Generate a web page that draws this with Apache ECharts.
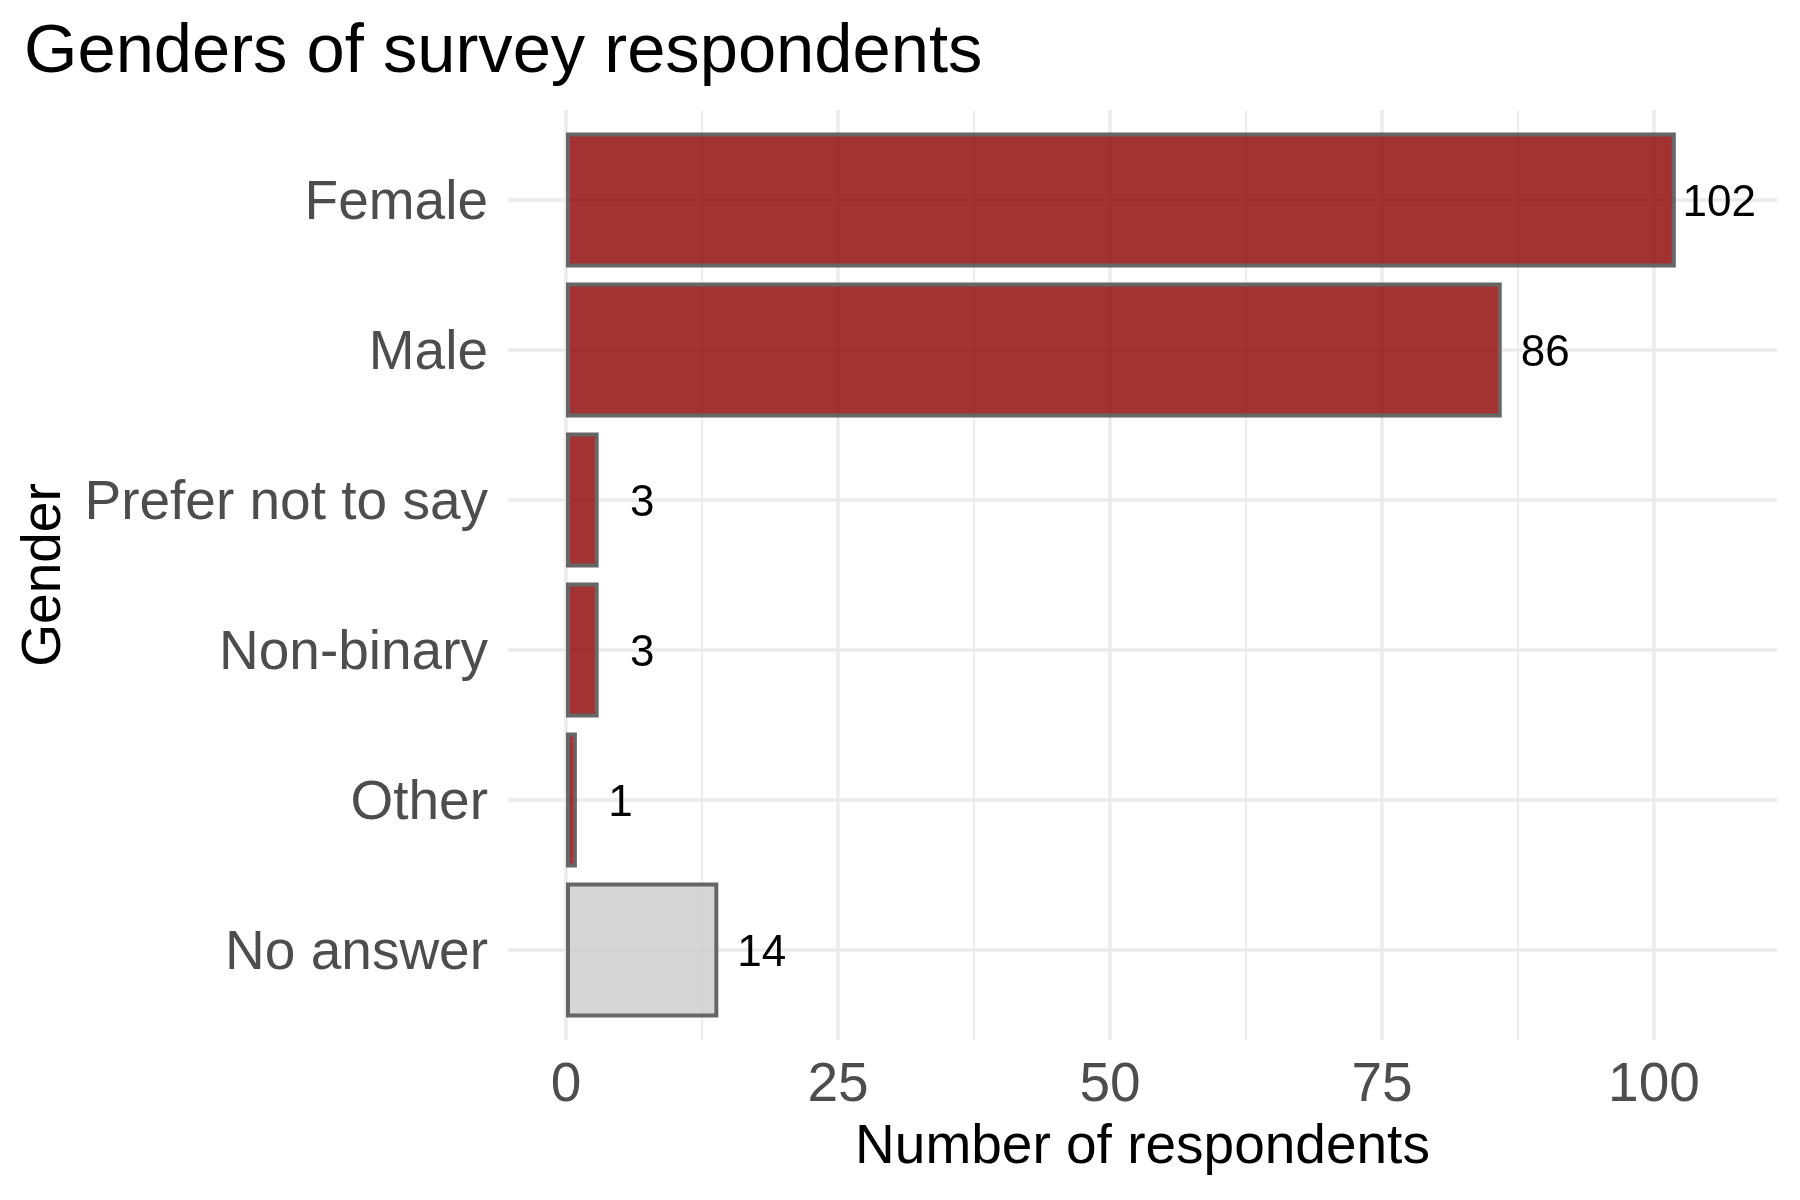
<!DOCTYPE html>
<html>
<head>
<meta charset="utf-8">
<script src="https://cdn.jsdelivr.net/npm/echarts@6/dist/echarts.min.js"></script>
<style>
  html, body { margin: 0; padding: 0; background: #fff; }
  #chart { width: 1800px; height: 1200px; }
</style>
</head>
<body>
<div id="chart"></div>
<script>
// survey data, top to bottom
const categories = ['Female', 'Male', 'Prefer not to say', 'Non-binary', 'Other', 'No answer'];
const counts = [102, 86, 3, 3, 1, 14];
const missingCategory = 'No answer';
const xTicks = [0, 25, 50, 75, 100];

const font = '"Liberation Sans", Arial, Helvetica, sans-serif';
const gridColor = '#ebebeb';

const chart = echarts.init(document.getElementById('chart'), null, { renderer: 'canvas' });

chart.setOption({
  backgroundColor: '#fff',
  animation: false,
  textStyle: { fontFamily: font },
  title: {
    text: 'Genders of survey respondents',
    left: 19, top: 14,
    textStyle: { fontFamily: font, fontSize: 68.7, fontWeight: 'normal', color: '#000' }
  },
  grid: [
    // vertical grid lines + x tick labels
    { left: 566, right: 146, top: 110, bottom: 160 },
    // horizontal grid lines + x axis title
    { left: 508, right: 23, top: 125, bottom: 175 },
    // bars
    { left: 566, right: 23, top: 125, bottom: 175 }
  ],
  xAxis: [
    {
      gridIndex: 0, type: 'value', min: 0, max: xTicks[xTicks.length - 1], interval: 25,
      axisLine: { show: false }, axisTick: { show: false },
      axisLabel: { color: '#4d4d4d', fontSize: 55, margin: 18, fontFamily: font },
      splitLine: { show: true, lineStyle: { color: gridColor, width: 3.5 } },
      minorTick: { show: false, splitNumber: 2 },
      minorSplitLine: { show: true, lineStyle: { color: gridColor, width: 1.8 } }
    },
    {
      gridIndex: 1, type: 'value', min: 0, max: 1,
      axisLine: { show: false }, axisTick: { show: false }, axisLabel: { show: false },
      splitLine: { show: false },
      name: 'Number of respondents', nameLocation: 'middle', nameGap: 95,
      nameTextStyle: { color: '#000', fontSize: 55, fontFamily: font }
    },
    {
      gridIndex: 2, type: 'value', min: 0, max: 111.3, show: false
    }
  ],
  yAxis: [
    { gridIndex: 0, type: 'value', show: false },
    {
      gridIndex: 1, type: 'value', min: 0, max: categories.length * 2, interval: 1,
      axisLine: { show: false }, axisTick: { show: false }, axisLabel: { show: false },
      splitLine: { show: true, lineStyle: { color: ['transparent', gridColor], width: 3.5 } }
    },
    {
      gridIndex: 2, type: 'category', data: categories, inverse: true,
      axisLine: { show: false }, axisTick: { show: false },
      // small line box, top aligned: nudges the text ~3px below the band centre like the R output
      axisLabel: { color: '#4d4d4d', fontSize: 55, margin: 78, fontFamily: font, verticalAlign: 'top', lineHeight: 7 },
      splitLine: { show: false },
      name: 'Gender', nameLocation: 'middle', nameGap: 494,
      nameTextStyle: { color: '#000', fontSize: 55, fontFamily: font }
    }
  ],
  series: [{
    type: 'bar',
    xAxisIndex: 2, yAxisIndex: 2,
    barWidth: '90%',
    data: counts.map((v, i) => ({
      value: v,
      itemStyle: {
        color: categories[i] === missingCategory ? 'rgba(204,204,204,0.8)' : 'rgba(139,0,0,0.8)'
      }
    })),
    itemStyle: { borderColor: '#666666', borderWidth: 4 },
    label: {
      show: true, position: 'right', distance: 43.5, align: 'center', offset: [0, 3.5],
      color: '#000', fontSize: 44, fontFamily: font
    },
    z: 3
  }]
});
</script>
</body>
</html>
